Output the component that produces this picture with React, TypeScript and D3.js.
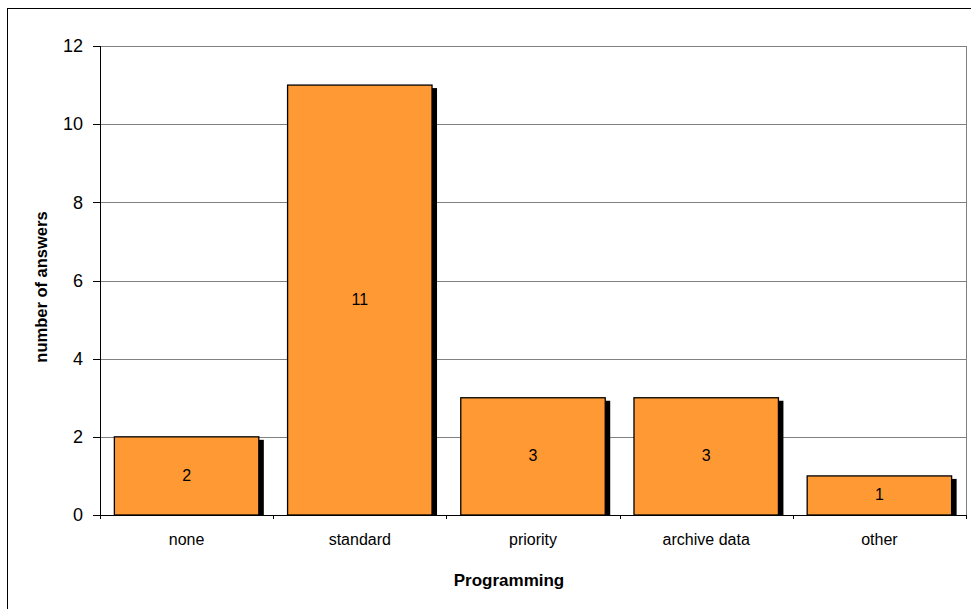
import React from "react";
import * as d3 from "d3";

const categories = ["none", "standard", "priority", "archive data", "other"];
const values = [2, 11, 3, 3, 1];
const yTicks = [0, 2, 4, 6, 8, 10, 12];

const W = 971, H = 609;
const plot = { left: 100, right: 966, top: 46, bottom: 515 };

export default function App() {
  const x = d3.scaleBand<string>().domain(categories).range([plot.left, plot.right]).paddingInner(0.166).paddingOuter(0.083);
  const band = d3.scaleBand<string>().domain(categories).range([plot.left, plot.right]);
  const y = d3.scaleLinear().domain([0, 12]).range([plot.bottom, plot.top]);
  const font = "'Liberation Sans', Arial, sans-serif";
  return (
    <svg width={W} height={H} style={{ position: "absolute", left: 0, top: 0, background: "#fff" }}>
      <rect x={7.5} y={8.5} width={W + 10} height={H + 10} fill="none" stroke="#000" strokeWidth={1} />
      <defs>
        <clipPath id="pc">
          <rect x={plot.left} y={0} width={plot.right - plot.left + 20} height={plot.bottom} />
        </clipPath>
      </defs>
      {yTicks.map((t) => (
        <g key={t}>
          {t > 0 && (
            <line x1={plot.left} x2={plot.right} y1={Math.round(y(t)) + 0.5} y2={Math.round(y(t)) + 0.5} stroke="#808080" strokeWidth={1} />
          )}
          <line x1={plot.left - 7} x2={plot.left} y1={Math.round(y(t)) + 0.5} y2={Math.round(y(t)) + 0.5} stroke="#000" />
          <text x={83} y={y(t)} dy="0.35em" textAnchor="end" fontFamily={font} fontSize={18}>{t}</text>
        </g>
      ))}
      <line x1={plot.right + 0.5} x2={plot.right + 0.5} y1={plot.top} y2={plot.bottom} stroke="#808080" />
      <g clipPath="url(#pc)">
        {categories.map((c, i) => (
          <rect key={"s" + c} x={(x(c) as number) + 5} y={y(values[i]) + 3} width={x.bandwidth()} height={plot.bottom - y(values[i])} fill="#000" />
        ))}
      </g>
      {categories.map((c, i) => (
        <g key={c}>
          <rect x={x(c) as number} y={y(values[i])} width={x.bandwidth()} height={plot.bottom - y(values[i])} fill="#FF9933" stroke="#000" strokeWidth={1.3} />
          <text x={(x(c) as number) + x.bandwidth() / 2} y={(y(values[i]) + plot.bottom) / 2 - 1} dy="0.35em" textAnchor="middle" fontFamily={font} fontSize={16}>{values[i]}</text>
          <text x={(band(c) as number) + band.bandwidth() / 2} y={545} textAnchor="middle" fontFamily={font} fontSize={16}>{c}</text>
        </g>
      ))}
      <line x1={plot.left + 0.5} x2={plot.left + 0.5} y1={plot.top} y2={plot.bottom} stroke="#000" />
      <line x1={plot.left} x2={plot.right + 1} y1={plot.bottom + 0.5} y2={plot.bottom + 0.5} stroke="#000" />
      {categories.concat(["_end"]).map((c, i) => {
        const xx = Math.round(plot.left + i * band.bandwidth()) + 0.5;
        return <line key={"t" + i} x1={xx} x2={xx} y1={plot.bottom} y2={plot.bottom + 4} stroke="#000" />;
      })}
      <text x={509} y={586} textAnchor="middle" fontFamily={font} fontSize={17} fontWeight="bold">Programming</text>
      <text transform={`translate(47,287) rotate(-90)`} textAnchor="middle" fontFamily={font} fontSize={16.5} fontWeight="bold">number of answers</text>
    </svg>
  );
}
